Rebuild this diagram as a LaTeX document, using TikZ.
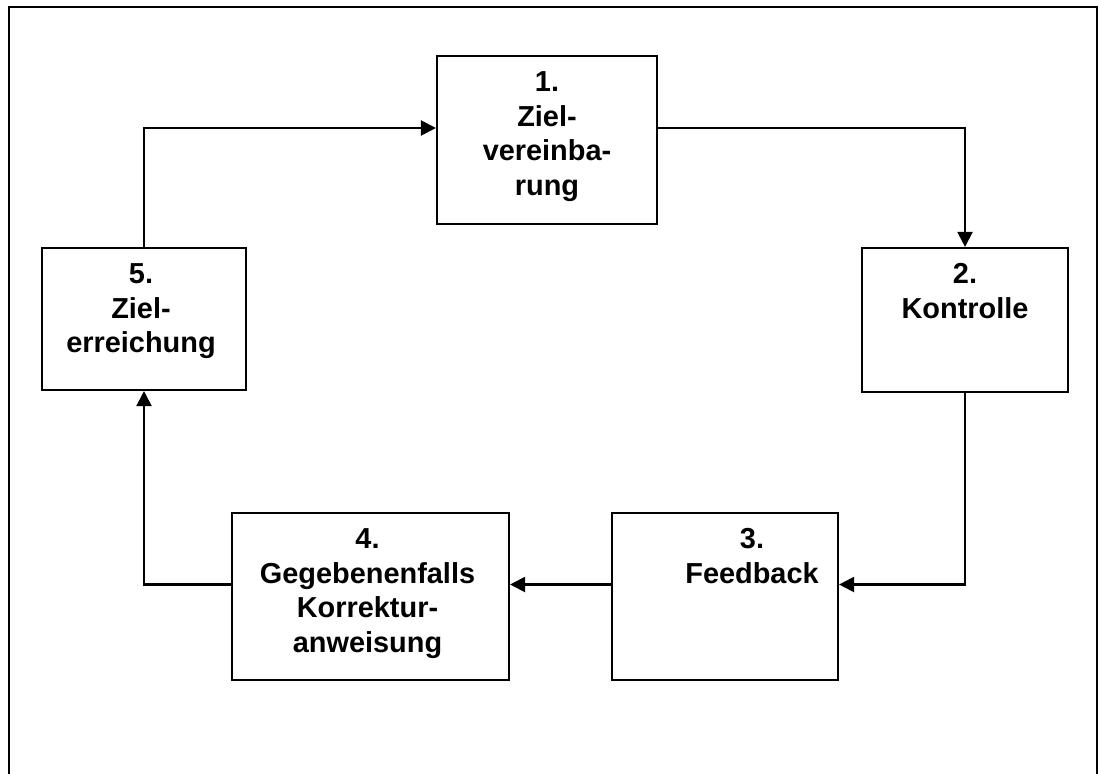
\documentclass[tikz,border=0pt]{standalone}
\usepackage{fontspec}
\setmainfont{Liberation Sans}
\usetikzlibrary{arrows.meta,calc}
\begin{document}
\begin{tikzpicture}[x=1pt,y=-1pt,
  stepbox/.style={draw=black,line width=2.1pt,rectangle,inner sep=0pt},
  lbl/.style={anchor=north,inner sep=0pt,align=center,
    font=\fontsize{28.9pt}{34.5pt}\selectfont\bfseries},
  arr/.style={draw=black,line width=2.1pt,-{Triangle[length=15pt,width=15pt]}}]
\useasboundingbox (0,0) rectangle (1099,773);
\draw[line width=2.4pt] (9,780) -- (9,7) -- (1097,7) -- (1097,780);
\node[stepbox,minimum width=220pt,minimum height=168pt] (b1) at (547,140) {};
\node[stepbox,minimum width=206pt,minimum height=144pt] (b2) at (965,320) {};
\node[stepbox,minimum width=226pt,minimum height=167pt] (b3) at (725,596.5) {};
\node[stepbox,minimum width=277pt,minimum height=167pt] (b4) at (370.5,596.5) {};
\node[stepbox,minimum width=204pt,minimum height=142pt] (b5) at (144,319) {};
\node[lbl] (t1) at ([yshift=-16.5pt]b1.north) {1.\\Ziel-\\vereinba-\\rung};
\node[lbl] (t2) at ([yshift=-16.5pt]b2.north) {2.\\Kontrolle};
\node[lbl] (t3) at ([yshift=-16.5pt,xshift=27pt]b3.north) {3.\\Feedback};
\node[lbl] (t4) at ([yshift=-16.5pt,xshift=-3pt]b4.north) {4.\\Gegebenenfalls\\Korrektur-\\anweisung};
\node[lbl] (t5) at ([yshift=-16.5pt,xshift=-3pt]b5.north) {5.\\Ziel-\\erreichung};
\draw[arr] (b5.north) |- ([yshift=12pt]b1.west);
\draw[arr] ([yshift=12pt]b1.east) -| (b2.north);
\draw[arr] (b2.south) |- ([yshift=12pt]b3.east);
\draw[arr] ([yshift=12pt]b3.west) -- ([yshift=12pt]b4.east);
\draw[arr] ([yshift=12pt]b4.west) -| (b5.south);
\end{tikzpicture}
\end{document}
